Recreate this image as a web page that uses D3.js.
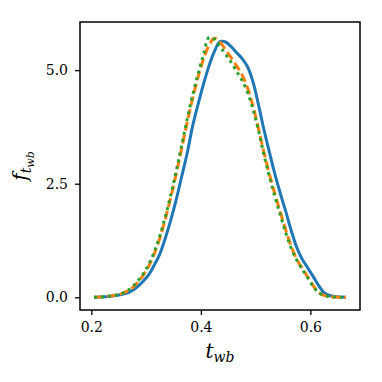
<!DOCTYPE html>
<html>
<head>
<meta charset="utf-8">
<script src="https://cdn.jsdelivr.net/npm/d3@7"></script>
<style>
  body { margin: 0; background: #fff; }
  svg { display: block; }
  svg text { font-family: "DejaVu Serif", serif; }
</style>
</head>
<body>
<div id="chart"></div>
<script>
// Data
const tGrid = [0.205,0.215,0.225,0.235,0.245,0.255,0.265,0.275,0.285,0.295,
  0.305,0.315,0.325,0.335,0.345,0.355,0.365,0.375,0.385,0.395,
  0.405,0.415,0.425,0.435,0.445,0.455,0.465,0.475,0.485,0.495,
  0.505,0.515,0.525,0.535,0.545,0.555,0.565,0.575,0.585,0.595,
  0.605,0.615,0.625,0.635,0.645,0.655,0.665];

const fBlue = [0,0.005,0.01,0.02,0.04,0.06,0.09,0.15,0.24,0.36,
  0.50,0.71,0.95,1.30,1.70,2.15,2.66,3.17,3.77,4.25,
  4.70,5.10,5.42,5.63,5.62,5.52,5.39,5.26,5.08,4.75,
  4.25,3.70,3.20,2.72,2.29,1.89,1.47,1.10,0.84,0.65,
  0.46,0.26,0.10,0.04,0.015,0.005,0];

const fOrange = [0,0.005,0.015,0.03,0.05,0.08,0.13,0.21,0.33,0.49,
  0.69,0.96,1.30,1.72,2.20,2.72,3.28,3.85,4.38,4.85,
  5.25,5.55,5.70,5.62,5.45,5.28,5.10,4.90,4.62,4.22,
  3.72,3.20,2.72,2.28,1.88,1.48,1.12,0.84,0.64,0.45,
  0.26,0.11,0.04,0.015,0.005,0.002,0];

const fGreen = [0,0.005,0.015,0.03,0.05,0.08,0.14,0.23,0.36,0.52,
  0.73,1.00,1.35,1.77,2.25,2.78,3.35,3.92,4.45,4.92,
  5.35,5.72,5.68,5.52,5.35,5.18,4.98,4.78,4.52,4.15,
  3.68,3.15,2.66,2.22,1.82,1.42,1.08,0.82,0.62,0.43,
  0.24,0.10,0.04,0.015,0.005,0.002,0];

const xTicks = [0.2, 0.4, 0.6];
const yTicks = [0.0, 2.5, 5.0];

// Layout
const W = 382, H = 382;
const margin = { top: 22, right: 22, bottom: 72, left: 80 };
const width = W - margin.left - margin.right;
const height = H - margin.top - margin.bottom;

const x = d3.scaleLinear().domain([0.1793, 0.6906]).range([0, width]);
const y = d3.scaleLinear().domain([-0.28, 6.06]).range([height, 0]);

const svg = d3.select("#chart").append("svg")
  .attr("width", W)
  .attr("height", H);

const g = svg.append("g")
  .attr("transform", `translate(${margin.left},${margin.top})`);

// Lines
const series = [
  { vals: fBlue, color: "#1f77b4", dash: null },
  { vals: fOrange, color: "#ff7f0e", dash: "9,4" },
  { vals: fGreen, color: "#2ca02c", dash: "3,4" }
];

const line = d3.line()
  .x(d => x(d[0]))
  .y(d => y(d[1]))
  .curve(d3.curveCatmullRom);

series.forEach(s => {
  g.append("path")
    .datum(tGrid.map((t, i) => [t, s.vals[i]]))
    .attr("fill", "none")
    .attr("stroke", s.color)
    .attr("stroke-width", 3)
    .attr("stroke-dasharray", s.dash)
    .attr("d", line);
});

// Axes
const xAxis = g.append("g")
  .attr("transform", `translate(0,${height})`)
  .call(d3.axisBottom(x).tickValues(xTicks).tickFormat(d3.format(".1f")).tickSize(5).tickPadding(7));

const yAxis = g.append("g")
  .call(d3.axisLeft(y).tickValues(yTicks).tickFormat(d3.format(".1f")).tickSize(5).tickPadding(7));

[xAxis, yAxis].forEach(a => {
  a.attr("font-family", null);
  a.select(".domain").remove();
  a.selectAll(".tick line").attr("stroke", "#000").attr("stroke-width", 1.3);
  a.selectAll(".tick text")
    .attr("fill", "#000")
    .style("font-size", "14px");
});

// Frame
g.append("rect")
  .attr("x", 0).attr("y", 0)
  .attr("width", width).attr("height", height)
  .attr("fill", "none")
  .attr("stroke", "#000")
  .attr("stroke-width", 1.5);

// Axis labels
const xl = svg.append("text")
  .attr("x", margin.left + width / 2)
  .attr("y", 358)
  .attr("text-anchor", "middle")
  .style("font-size", "20px")
  .style("font-style", "italic");
xl.append("tspan").text("t");
xl.append("tspan").attr("dy", 4).style("font-size", "14px").text("wb");

const yl = svg.append("text")
  .attr("transform", `translate(27,${margin.top + height / 2}) rotate(-90)`)
  .attr("text-anchor", "middle")
  .style("font-size", "20px")
  .style("font-style", "italic");
yl.append("tspan").text("f");
yl.append("tspan").attr("dy", 4).style("font-size", "14px").text("t");
yl.append("tspan").attr("dy", 3).style("font-size", "11px").text("wb");
</script>
</body>
</html>
